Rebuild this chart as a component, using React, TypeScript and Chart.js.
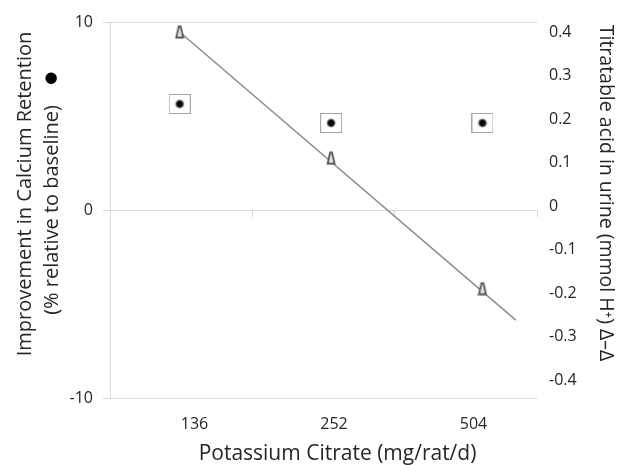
import React, { useEffect, useRef } from 'react';
import { Chart, registerables } from 'chart.js';

Chart.register(...registerables);

// ---- data ----
const categories = ['136', '252', '504'];
const categoryPositions = [1, 2, 3];
const calciumRetention = [5.64, 4.63, 4.63];
const titratableAcid = [0.4, 0.11, -0.19];
const trendX = [1, 3.22];
const trendY = [0.4, -0.262];
const leftTicks = [-10, 0, 10];
const rightTicks = [-0.4, -0.3, -0.2, -0.1, 0, 0.1, 0.2, 0.3, 0.4];
const boundaryTicks = [1.5, 2.5, 3.5];

const leftTitle = ['Improvement in Calcium Retention', '(% relative to baseline)'];
const leftSymbol = '\u25CF';
const rightTitle = 'Titratable acid in urine (mmol H\u207A) \u2206\u2013\u2206';
const bottomTitle = 'Potassium Citrate (mg/rat/d)';

const FONT = '"Open Sans", "DejaVu Sans", sans-serif';
const TEXT = '#262626';
const GRID = '#d9d9d9';

function makeBox(): HTMLCanvasElement {
  const c = document.createElement('canvas');
  c.width = 22;
  c.height = 20;
  const g = c.getContext('2d')!;
  g.fillStyle = '#ffffff';
  g.fillRect(0, 0, 22, 20);
  g.strokeStyle = '#a6a6a6';
  g.lineWidth = 1;
  g.strokeRect(0.5, 0.5, 21, 19);
  const grad = g.createRadialGradient(11, 10, 0, 11, 10, 5);
  grad.addColorStop(0, '#000000');
  grad.addColorStop(0.55, '#111111');
  grad.addColorStop(1, 'rgba(0,0,0,0)');
  g.fillStyle = grad;
  g.beginPath();
  g.arc(11, 10, 5, 0, Math.PI * 2);
  g.fill();
  return c;
}

function makeTri(): HTMLCanvasElement {
  const c = document.createElement('canvas');
  c.width = 10;
  c.height = 14;
  const g = c.getContext('2d')!;
  g.beginPath();
  g.moveTo(4, 1.5);
  g.lineTo(6, 1.5);
  g.lineTo(8.5, 12.5);
  g.lineTo(1.5, 12.5);
  g.closePath();
  g.fillStyle = '#e6e6e6';
  g.fill();
  g.strokeStyle = '#555555';
  g.lineWidth = 1.8;
  g.stroke();
  return c;
}

const titlesPlugin = {
  id: 'axisTitles',
  afterDraw(chart: any) {
    const { ctx, chartArea } = chart;
    ctx.save();
    ctx.fillStyle = TEXT;
    ctx.textAlign = 'center';
    ctx.textBaseline = 'middle';
    const cy = (chartArea.top + chartArea.bottom) / 2;
    // left title, line 1
    ctx.font = `20px ${FONT}`;
    ctx.save();
    ctx.translate(25, cy - 16);
    ctx.rotate(-Math.PI / 2);
    ctx.fillText(leftTitle[0], 0, 0);
    ctx.restore();
    // left title, line 2 + symbol
    ctx.save();
    ctx.translate(52, cy);
    ctx.rotate(-Math.PI / 2);
    ctx.fillText(leftTitle[1], 0, 0);
    const w = ctx.measureText(leftTitle[1]).width;
    ctx.font = `15px "DejaVu Sans", sans-serif`;
    ctx.fillStyle = '#000';
    ctx.fillText(leftSymbol, w / 2 + 27, -1);
    ctx.restore();
    // right title
    ctx.fillStyle = TEXT;
    ctx.font = `19.5px ${FONT}`;
    ctx.save();
    ctx.translate(606, cy - 17);
    ctx.rotate(Math.PI / 2);
    ctx.fillText(rightTitle, 0, 0);
    ctx.restore();
    // bottom title
    ctx.font = `21px ${FONT}`;
    ctx.fillText(bottomTitle, (chartArea.left + chartArea.right) / 2 + 14, 454);
    ctx.restore();
  },
};

export default function App() {
  const ref = useRef<HTMLCanvasElement>(null);
  useEffect(() => {
    const box = makeBox();
    const tri = makeTri();
    const tickFont = { family: FONT, size: 16 };
    const chart = new Chart(ref.current!, {
      type: 'scatter',
      data: {
        datasets: [
          {
            label: 'Calcium retention',
            data: categoryPositions.map((x, i) => ({ x, y: calciumRetention[i] })),
            xAxisID: 'xd',
            yAxisID: 'y',
            pointStyle: box as any,
            pointRadius: 10,
            showLine: false,
          },
          {
            label: 'Titratable acid',
            data: categoryPositions.map((x, i) => ({ x, y: titratableAcid[i] })),
            xAxisID: 'xd',
            yAxisID: 'y2',
            pointStyle: tri as any,
            pointRadius: 6,
            showLine: false,
          },
          {
            label: 'Trend',
            data: trendX.map((x, i) => ({ x, y: trendY[i] })),
            xAxisID: 'xd',
            yAxisID: 'y2',
            showLine: true,
            pointRadius: 0,
            borderColor: '#8c8c8c',
            borderWidth: 1.5,
          },
        ],
      },
      options: {
        animation: false,
        responsive: true,
        maintainAspectRatio: false,
        layout: { padding: { top: 22, left: 0, right: 0, bottom: 0 } },
        plugins: { legend: { display: false }, tooltip: { enabled: false } },
        scales: {
          // category labels (bottom)
          x: {
            type: 'linear',
            position: 'bottom',
            min: 0.394,
            max: 3.455,
            afterBuildTicks: (s: any) => {
              s.ticks = categoryPositions.map((v) => ({ value: v }));
            },
            afterFit: (s: any) => {
              s.height = 67;
            },
            ticks: {
              callback: (v: any) => categories[categoryPositions.indexOf(Number(v))],
              font: tickFont,
              color: TEXT,
              padding: 17,
              autoSkip: false,
              maxRotation: 0,
            },
            grid: { display: false, drawTicks: false },
            border: { display: false },
          },
          // data positions
          xd: {
            type: 'linear',
            axis: 'x',
            display: false,
            min: 0.54,
            max: 3.36,
          } as any,
          // horizontal axis line at zero with category boundary ticks
          x2: {
            type: 'linear',
            axis: 'x',
            position: { y: 0 },
            min: 0.5,
            max: 3.5,
            afterBuildTicks: (s: any) => {
              s.ticks = boundaryTicks.map((v) => ({ value: v }));
            },
            ticks: { display: false },
            grid: { drawOnChartArea: false, drawTicks: true, tickLength: 6, color: GRID },
            border: { color: GRID },
          } as any,
          y: {
            type: 'linear',
            position: 'left',
            min: -10,
            max: 10,
            afterBuildTicks: (s: any) => {
              s.ticks = leftTicks.map((v) => ({ value: v }));
            },
            afterFit: (s: any) => {
              s.width = 110;
            },
            ticks: { font: tickFont, color: TEXT, padding: 10 },
            grid: { color: GRID, tickLength: 7 },
            border: { color: GRID },
          },
          y2: {
            type: 'linear',
            position: 'right',
            min: -0.441,
            max: 0.423,
            afterBuildTicks: (s: any) => {
              s.ticks = rightTicks.map((v) => ({ value: v }));
            },
            afterFit: (s: any) => {
              s.width = 82;
            },
            ticks: {
              font: tickFont,
              color: TEXT,
              padding: 12,
              callback: (v: any) => String(Number(Number(v).toFixed(1))),
            },
            grid: { display: false, drawTicks: false },
            border: { display: false },
          },
        },
      },
      plugins: [titlesPlugin],
    });
    return () => chart.destroy();
  }, []);
  return (
    <div style={{ position: 'absolute', left: 0, top: 0, width: 619, height: 465, background: '#fff' }}>
      <canvas ref={ref} />
    </div>
  );
}
